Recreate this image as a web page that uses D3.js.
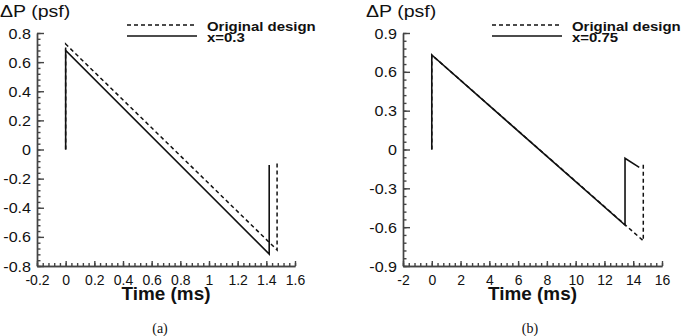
<!DOCTYPE html>
<html lang="en">
<head>
<meta charset="utf-8">
<title>Delta P vs time</title>
<script src="https://cdn.jsdelivr.net/npm/d3@7"></script>
<style>
  body { margin: 0; background: #fff; }
  text { font-family: "Liberation Sans", Arial, sans-serif; fill: #111; }
</style>
</head>
<body>
<script>
// ---- data ----
// panel (a)
var aOrigT = [0, 0, 1.475, 1.475];
var aOrigP = [0, 0.724, -0.69, -0.095];
var aModT  = [0, 0, 1.42, 1.42];
var aModP  = [0, 0.68, -0.718, -0.107];
var aXTicks = [-0.2, 0, 0.2, 0.4, 0.6, 0.8, 1, 1.2, 1.4, 1.6];
var aYTicks = [-0.8, -0.6, -0.4, -0.2, 0, 0.2, 0.4, 0.6, 0.8];
// panel (b)
var bOrigT = [0, 0, 14.7, 14.7];
var bOrigP = [0, 0.73, -0.705, -0.10];
var bModT  = [0, 0, 13.43, 13.43, 14.42];
var bModP  = [0, 0.73, -0.584, -0.068, -0.138];
var bXTicks = [-2, 0, 2, 4, 6, 8, 10, 12, 14, 16];
var bYTicks = [-0.9, -0.6, -0.3, 0, 0.3, 0.6, 0.9];

var w = 685, h = 336;
var SX = 1.15;   // the picture's text is a bit stretched sideways

var svg = d3.select("body").append("svg")
    .attr("width", w)
    .attr("height", h);

function label(x, y, str, size, weight, anchor, fam, sx) {
  return svg.append("text")
    .attr("transform", "translate(" + x + "," + y + ") scale(" + (sx || SX) + ",1)")
    .attr("text-anchor", anchor || "start")
    .attr("font-size", size + "px")
    .attr("font-weight", weight || "normal")
    .style("font-family", fam || null)
    .text(str);
}

function panel(o) {
  var x = d3.scaleLinear().domain(o.xd).range([o.x0, o.x1]);
  var y = d3.scaleLinear().domain(o.yd).range([266, 33]);
  var g = svg.append("g");

  var xs = o.xt[1] - o.xt[0], ys = o.yt[1] - o.yt[0];
  var xMinor = d3.range(0, 46).map(function(i) { return o.xd[0] + i * xs / 5; })
                 .filter(function(v) { return v <= o.xd[1] + 1e-9; });
  var yMinor = d3.range(0, 46).map(function(i) { return o.yd[0] + i * ys / 5; })
                 .filter(function(v) { return v <= o.yd[1] + 1e-9; });

  // minor ticks
  g.append("g").attr("transform", "translate(0,266)")
    .call(d3.axisBottom(x).tickValues(xMinor).tickSize(-3).tickSizeOuter(0).tickFormat(""));
  g.append("g").attr("transform", "translate(" + o.x0 + ",0)")
    .call(d3.axisLeft(y).tickValues(yMinor).tickSize(-3.5).tickSizeOuter(0).tickFormat(""));

  // major ticks
  var xa = g.append("g").attr("transform", "translate(0,266)")
    .call(d3.axisBottom(x).tickValues(o.xt).tickSize(-5).tickSizeOuter(0)
      .tickFormat(function(d) { return String(+d.toFixed(2)); }));
  var ya = g.append("g").attr("transform", "translate(" + o.x0 + ",0)")
    .call(d3.axisLeft(y).tickValues(o.yt).tickSize(-7).tickSizeOuter(0)
      .tickFormat(function(d) { return String(+d.toFixed(2)); }));

  g.selectAll(".domain, .tick line")
    .attr("stroke", "#444").attr("stroke-width", 1.4);

  xa.selectAll("text").attr("y", 0).attr("dy", null)
    .attr("transform", "translate(0,19)")
    .attr("font-size", "14px").attr("font-family", null).attr("fill", "#111");
  ya.selectAll("text").attr("x", 0).attr("dy", null)
    .attr("transform", "translate(-6,5) scale(" + SX + ",1)")
    .attr("font-size", "14px").attr("font-family", null).attr("fill", "#111");

  var line = d3.line()
    .x(function(d) { return x(d[0]); })
    .y(function(d) { return y(d[1]); });

  g.append("path")
    .datum(d3.zip(o.origT, o.origP))
    .attr("d", line).attr("fill", "none")
    .attr("stroke", "#111").attr("stroke-width", 1.5)
    .attr("stroke-dasharray", "4,3");
  g.append("path")
    .datum(d3.zip(o.modT, o.modP))
    .attr("d", line).attr("fill", "none")
    .attr("stroke", "#111").attr("stroke-width", 1.6);

  // legend
  g.append("line").attr("x1", o.lx).attr("x2", o.lx + 70).attr("y1", 25).attr("y2", 25)
    .attr("stroke", "#111").attr("stroke-width", 1.5).attr("stroke-dasharray", "4,3");
  g.append("line").attr("x1", o.lx).attr("x2", o.lx + 70).attr("y1", 36).attr("y2", 36)
    .attr("stroke", "#111").attr("stroke-width", 1.6);
  label(o.lx + 80, 30.5, "Original design", 13, "bold");
  label(o.lx + 80, 41.5, o.modName, 13, "bold");

  // titles
  label(o.x0 - 37, 17, "\u0394P (psf)", 17);
  label((o.x0 + o.x1) / 2, 300, "Time (ms)", 18, "bold", "middle", null, 1.05);
  label(o.cap, 333, o.capText, 14, "normal", "middle", "'Liberation Serif', 'Times New Roman', serif", 1);
}

panel({ xd: [-0.2, 1.6], yd: [-0.8, 0.8], x0: 37, x1: 295, xt: aXTicks, yt: aYTicks,
        origT: aOrigT, origP: aOrigP, modT: aModT, modP: aModP,
        lx: 127, modName: "x=0.3", cap: 160, capText: "(a)" });
panel({ xd: [-2, 16], yd: [-0.9, 0.9], x0: 403, x1: 662, xt: bXTicks, yt: bYTicks,
        origT: bOrigT, origP: bOrigP, modT: bModT, modP: bModP,
        lx: 492, modName: "x=0.75", cap: 530, capText: "(b)" });
</script>
</body>
</html>
